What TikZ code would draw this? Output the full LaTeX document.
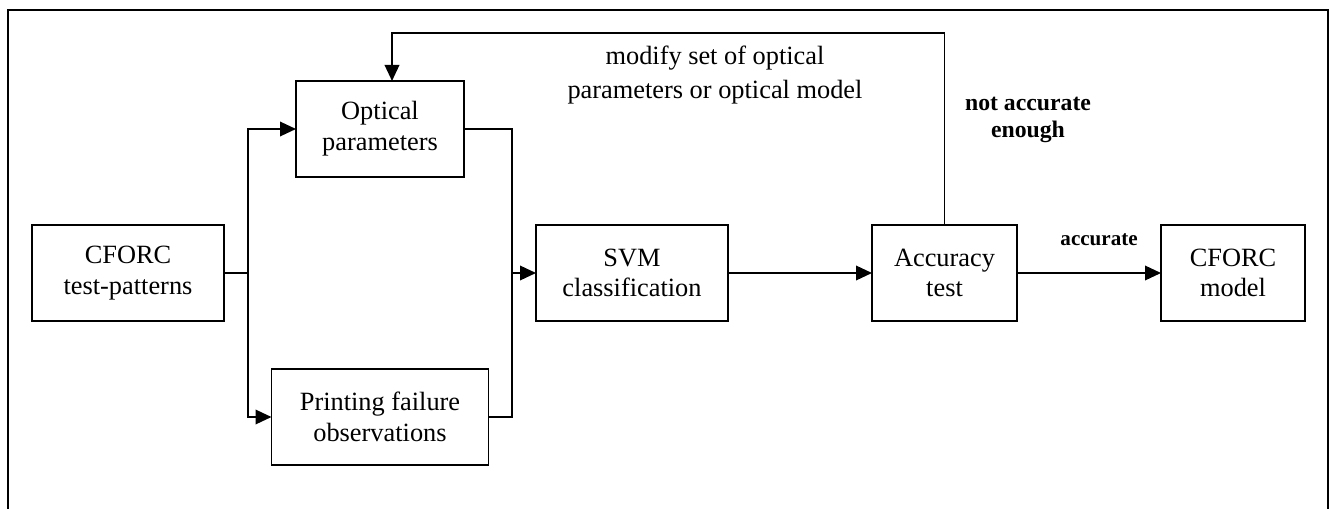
\documentclass[tikz,border=0pt]{standalone}
\usepackage{fontspec}
\setmainfont{Liberation Serif}
\usepackage{tikz}
\usetikzlibrary{shapes, arrows.meta, positioning, calc}

\begin{document}
\begin{tikzpicture}[x=0.2mm, y=-0.2mm, node distance=28.8mm]
        % Define block styles
        \tikzstyle{box} = [rectangle, draw, line width=1.1pt, inner sep=0pt, outer sep=0pt, text centered, align=center, minimum height=19.2mm, font=\fontsize{15}{17.5}\selectfont]
        \tikzstyle{arrowline} = [draw, line width=1.1pt, -{Triangle[length=3.2mm, width=2.9mm]}]
        \tikzstyle{wire} = [draw, line width=1.1pt]
        \tikzstyle{note} = [inner sep=0pt, align=center]

        \useasboundingbox (0,0) rectangle (1330,509);

        % Frame
        \draw [line width=1pt] (8,509) -- (8,10) -- (1328,10) -- (1328,509);

        % Nodes
        \node [box, minimum width=38.4mm] (patterns) at (128,273) {CFORC\\ test-patterns};
        \node [box, minimum width=38.4mm, right=62.4mm of patterns] (svm) {SVM\\ classification};
        \node [box, minimum width=29mm, right=of svm] (accuracy) {Accuracy\\ test};
        \node [box, minimum width=28.8mm, right=of accuracy] (model) {CFORC\\ model};
        \node [box, minimum width=33.6mm] (optical) at (380,129) {Optical\\ parameters};
        \node [box, minimum width=43.4mm, below=38.4mm of optical] (printing) {Printing failure\\ observations};

        % Labels
        \node [note, font=\fontsize{15}{19}\selectfont] (modify) at (715,75) {modify set of optical\\ parameters or optical model};
        \node [note, font=\bfseries\fontsize{13.5}{15.4}\selectfont] (notenough) at (1028,120) {not accurate\\ enough};

        % Paths
        \coordinate (fork) at ($(patterns.east)+(24,0)$);
        \coordinate (merge) at ($(svm.west)+(-24,0)$);
        \path [arrowline] (patterns.east) -- (fork) |- (optical.west);
        \path [arrowline] (fork) |- (printing.west);
        \path [wire] (optical.east) -| (merge);
        \path [wire] (printing.east) -| (merge);
        \path [arrowline] (merge) -- (svm.west);
        \path [arrowline] (svm) -- (accuracy);
        \path [arrowline] (accuracy) -- node [note, above=5.2mm, pos=0.57, font=\bfseries\fontsize{12}{14}\selectfont] (acclabel) {accurate} (model);
        \coordinate (fbright) at ($(accuracy.north)+(0,-192)$);
        \coordinate (fbleft) at ($(optical.north)+(12,-48)$);
        \path [arrowline] (accuracy.north) -- (fbright) -- (fbleft) -- ($(optical.north)+(12,0)$);

\end{tikzpicture}
\end{document}
